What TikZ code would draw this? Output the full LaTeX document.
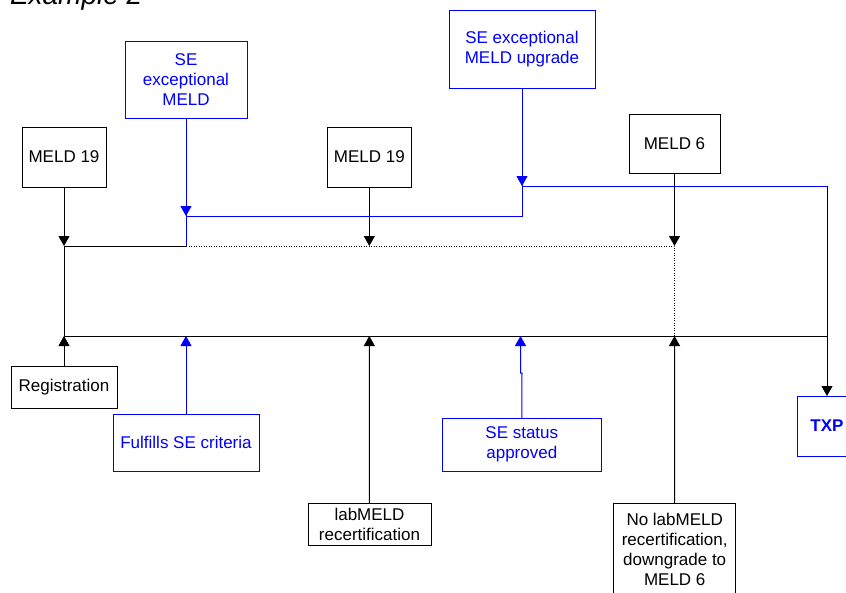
\documentclass[tikz,border=0pt]{standalone}
\usepackage{fontspec}
\setmainfont{Liberation Sans}
\usetikzlibrary{arrows.meta}
\begin{document}
\begin{tikzpicture}[x=1pt,y=-1pt,
  every node/.style={inner sep=0pt, outer sep=0pt},
  lbl/.style={draw, line width=1pt, rectangle, align=center,
    font=\fontsize{17}{20}\selectfont},
  bluebox/.style={lbl, draw=blue, text=blue},
  link/.style={line width=1pt},
  bluelink/.style={link, draw=blue},
  tip/.style={-{Triangle[width=11pt,length=10pt]}},
  faint/.style={line width=0.8pt, dash pattern=on 1pt off 1.5pt}
]
\useasboundingbox (0,0) rectangle (846,592);
\clip (0,0) rectangle (846,592);

% heading
\node[anchor=base west, font=\fontsize{28}{32}\selectfont\itshape] (title) at (10,4) {Example 2};

% upper boxes
\node[bluebox, minimum width=122, minimum height=77] (seMeld) at (186,79.5) {SE\\exceptional\\MELD};
\node[bluebox, minimum width=146, minimum height=78] (seUp) at (522,49) {SE exceptional\\MELD upgrade};
\node[lbl, minimum width=84, minimum height=60] (m19a) at (64,157) {MELD 19};
\node[lbl, minimum width=84, minimum height=60] (m19b) at (369.3,157) {MELD 19};
\node[lbl, minimum width=91, minimum height=59] (m6) at (674.5,143.5) {MELD 6};

% lower boxes
\node[lbl, minimum width=106, minimum height=42] (reg) at (64,387) {Registration};
\node[bluebox, minimum width=146, minimum height=57] (fulfil) at (186,442.5) {Fulfills SE criteria};
\node[lbl, minimum width=123, minimum height=42] (lab) at (369.5,524) {labMELD\\recertification};
\node[bluebox, minimum width=159, minimum height=53] (approved) at (521.8,444.5) {SE status\\approved};
\node[lbl, minimum width=122, minimum height=92] (nolab) at (674.7,549) {No labMELD\\recertification,\\downgrade to\\MELD 6};
\node[bluebox, minimum width=60, minimum height=60, font=\fontsize{17}{20}\selectfont\bfseries] (txp) at (827,426) {TXP};

% junction points
\coordinate (ta) at (64,246);
\coordinate (tb) at (369.3,246);
\coordinate (tc) at (674.5,246);
\coordinate (ts) at (186,246);
\coordinate (sa) at (186,216);
\coordinate (sb) at (522,216);
\coordinate (ua) at (522,186);
\coordinate (ub) at (827,186);
\coordinate (ba) at (64,336);
\coordinate (bb) at (186,336);
\coordinate (bc) at (369.3,336);
\coordinate (bd) at (520.5,336);
\coordinate (be) at (674.5,336);
\coordinate (bf) at (827,336);
\coordinate (jog) at (522,373);

% time lines
\draw[link] (ta) -- (ts);
\draw[faint] (ts) -- (tc) -- (be);
\draw[link] (ta) -- (ba) -- (bf);

% MELD scores from above
\draw[link, tip] (m19a) -- (ta);
\draw[link, tip] (m19b) -- (tb);
\draw[link, tip] (m6) -- (tc);

% exception path
\draw[bluelink] (seMeld) -- (ts);
\draw[bluelink, tip] (seMeld) -- (sa);
\draw[bluelink] (sa) -- (sb) -- (seUp);
\draw[bluelink, tip] (seUp) -- (ua);
\draw[bluelink] (ua) -- (ub);
\draw[link, tip] (ub) -- (txp);

% events from below
\draw[link, tip] (reg) -- (ba);
\draw[bluelink, tip] (fulfil) -- (bb);
\draw[link, tip] (lab) -- (bc);
\draw[bluelink, tip] (approved.north) -- (jog) -| (bd);
\draw[link, tip] (nolab) -- (be);
\end{tikzpicture}
\end{document}
